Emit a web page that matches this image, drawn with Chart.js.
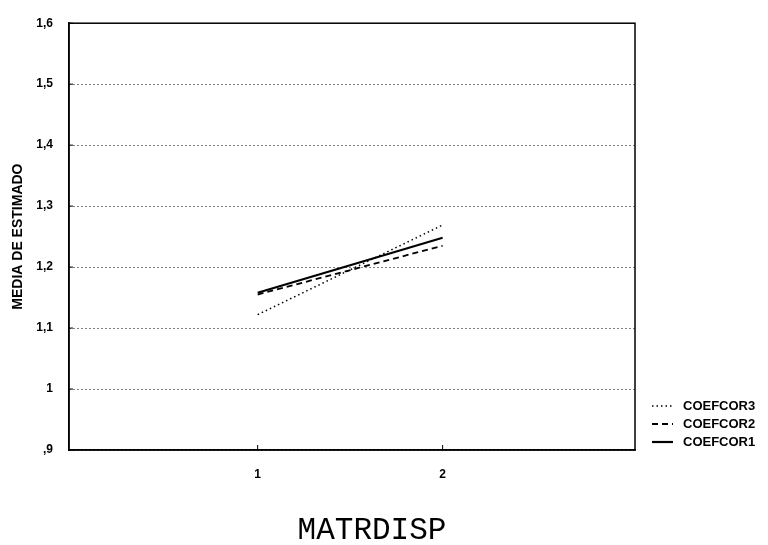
<!DOCTYPE html>
<html>
<head>
<meta charset="utf-8">
<script src="https://cdn.jsdelivr.net/npm/chart.js@4.4.0/dist/chart.umd.min.js"></script>
<style>
  html, body { margin: 0; padding: 0; background: #fff; }
</style>
</head>
<body>
<canvas id="chart" width="768" height="545"></canvas>
<script>
// medias por nivel de MATRDISP
const matrdisp = [1, 2];
const coefcor3 = [1.122, 1.269];
const coefcor2 = [1.155, 1.235];
const coefcor1 = [1.158, 1.248];
const yTicks = [0.9, 1.0, 1.1, 1.2, 1.3, 1.4, 1.5, 1.6];
const xTitulo = "MATRDISP";

function fmt(v) {
  if (Math.abs(v - 1) < 1e-9) return "1";
  let s = v.toFixed(1).replace(".", ",");
  if (s.startsWith("0")) s = s.slice(1);
  return s;
}

function serie(label, vals, dash, width) {
  return {
    label: label,
    data: matrdisp.map((x, i) => ({ x: x, y: vals[i] })),
    borderColor: "#000",
    borderWidth: width,
    borderDash: dash,
    pointRadius: 0,
    fill: false,
    tension: 0,
  };
}

// marco, marcas de eje, titulo X y leyenda
const marco = {
  id: "marco",
  afterDraw(chart) {
    const ctx = chart.ctx;
    const a = chart.chartArea;
    const ys = chart.scales.y, xs = chart.scales.x;
    ctx.save();
    ctx.strokeStyle = "#000";
    ctx.lineWidth = 1.5;
    ctx.setLineDash([]);
    ctx.strokeRect(a.left, a.top, a.right - a.left, a.bottom - a.top);
    ctx.lineWidth = 1;
    ctx.beginPath();
    yTicks.forEach(v => {
      const y = ys.getPixelForValue(v);
      ctx.moveTo(a.left, y); ctx.lineTo(a.left + 4, y);
    });
    matrdisp.forEach(v => {
      const x = xs.getPixelForValue(v);
      ctx.moveTo(x, a.bottom); ctx.lineTo(x, a.bottom - 5);
    });
    ctx.stroke();

    ctx.fillStyle = "#000";
    ctx.textAlign = "center";
    ctx.textBaseline = "middle";
    ctx.font = "31px 'Liberation Mono', 'Courier New', monospace";
    ctx.fillText(xTitulo, 372, 531);

    ctx.textAlign = "left";
    ctx.font = "bold 13px 'Liberation Sans', Arial, sans-serif";
    chart.data.datasets.forEach((ds, i) => {
      const y = 406 + i * 18;
      ctx.beginPath();
      ctx.lineWidth = ds.borderWidth;
      ctx.setLineDash(ds.borderDash || []);
      ctx.moveTo(652, y); ctx.lineTo(673, y);
      ctx.stroke();
      ctx.fillText(ds.label, 683, y);
    });
    ctx.restore();
  }
};

new Chart(document.getElementById("chart").getContext("2d"), {
  type: "line",
  data: {
    datasets: [
      serie("COEFCOR3", coefcor3, [1.5, 3], 1.5),
      serie("COEFCOR2", coefcor2, [6, 4], 1.8),
      serie("COEFCOR1", coefcor1, [], 2.2),
    ],
  },
  options: {
    responsive: false,
    animation: false,
    layout: { padding: { top: 19, right: 133, left: 0, bottom: 0 } },
    plugins: {
      legend: { display: false },
      tooltip: { enabled: false },
    },
    scales: {
      x: {
        type: "linear",
        min: -0.02,
        max: 3.04,
        afterBuildTicks(s) { s.ticks = matrdisp.map(v => ({ value: v })); },
        afterFit(s) { s.height = 95; },
        grid: { display: false },
        border: { display: true, color: "#000", width: 1.5 },
        ticks: {
          color: "#000",
          padding: 9,
          font: { family: "'Liberation Sans', Arial, sans-serif", size: 12, weight: "bold" },
          callback: v => String(v),
        },
      },
      y: {
        min: 0.9,
        max: 1.6,
        afterBuildTicks(s) { s.ticks = yTicks.map(v => ({ value: v })); },
        afterFit(s) { s.width = 69; },
        grid: { color: "#000", lineWidth: 1, drawTicks: false },
        border: { display: true, color: "#000", width: 1.5, dash: [1, 3] },
        ticks: {
          color: "#000",
          padding: 16,
          font: { family: "'Liberation Sans', Arial, sans-serif", size: 12, weight: "bold" },
          callback: v => fmt(v),
        },
        title: {
          display: true,
          text: "MEDIA DE ESTIMADO",
          color: "#000",
          padding: { top: 10, bottom: 0 },
          font: { family: "'Liberation Sans', Arial, sans-serif", size: 14, weight: "bold" },
        },
      },
    },
  },
  plugins: [marco],
});
</script>
</body>
</html>
